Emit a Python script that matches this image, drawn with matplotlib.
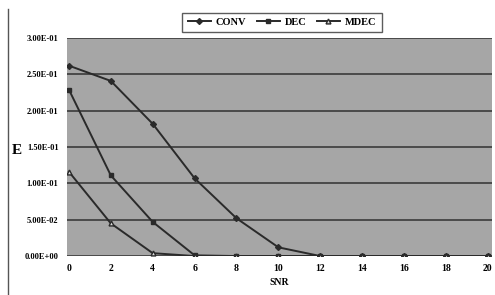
import matplotlib.pyplot as plt
import numpy as np

snr = [0, 2, 4, 6, 8, 10, 12, 14, 16, 18, 20]
conv = [0.262, 0.241, 0.182, 0.107, 0.052, 0.012, 0.0, 0.0, 0.0, 0.0, 0.0]
dec = [0.229, 0.111, 0.047, 0.001, 0.0, 0.0, 0.0, 0.0, 0.0, 0.0, 0.0]
mdec = [0.116, 0.045, 0.004, 0.0, 0.0, 0.0, 0.0, 0.0, 0.0, 0.0, 0.0]
yticks = [0, 0.05, 0.10, 0.15, 0.20, 0.25, 0.30]
ylabels = ['0.00E+00', '5.00E-02', '1.00E-01', '1.50E-01', '2.00E-01', '2.50E-01', '3.00E-01']

plt.rcParams['font.family'] = ['Liberation Serif', 'DejaVu Serif']

fig = plt.figure(figsize=(4.95, 2.95), dpi=100)
ax = fig.add_axes([0.135, 0.132, 0.859, 0.739])
ax.set_facecolor('#a6a6a6')

ax.plot(snr, conv, color='#2a2a2a', lw=1.4, marker='D', ms=3, label='CONV')
ax.plot(snr, dec, color='#2a2a2a', lw=1.4, marker='s', ms=3.5, label='DEC')
ax.plot(snr, mdec, color='#2a2a2a', lw=1.4, marker='^', ms=3.5, mfc='#dddddd', label='MDEC')

ax.set_xlim(-0.1, 20.2)
ax.set_ylim(0, 0.3)
ax.set_xticks(snr)
ax.set_xticklabels([str(s) for s in snr], fontsize=7, fontweight='bold')
ax.set_yticks(yticks)
ax.set_yticklabels(ylabels, fontsize=6, fontweight='bold')
ax.tick_params(length=0, pad=6)
ax.yaxis.grid(True, color='#3a3a3a', lw=1.2)
ax.set_axisbelow(True)
for s in ax.spines.values():
    s.set_visible(False)

ax.set_xlabel('SNR', fontsize=7, fontweight='bold', labelpad=3)
fig.text(0.035, 0.49, 'E', fontsize=11, fontweight='bold', ha='center', va='center')

fig.legend(loc='upper center', bbox_to_anchor=(0.57, 0.975), ncol=3,
           frameon=True, fancybox=False, edgecolor='#333333', handlelength=2.2,
           columnspacing=1.0, handletextpad=0.5, borderpad=0.5,
           prop={'weight': 'bold', 'size': 7.5})

fig.add_artist(plt.Line2D([0.016, 0.016], [0.0, 0.97], color='#555555', lw=1))

plt.savefig('out.png', dpi=100)
